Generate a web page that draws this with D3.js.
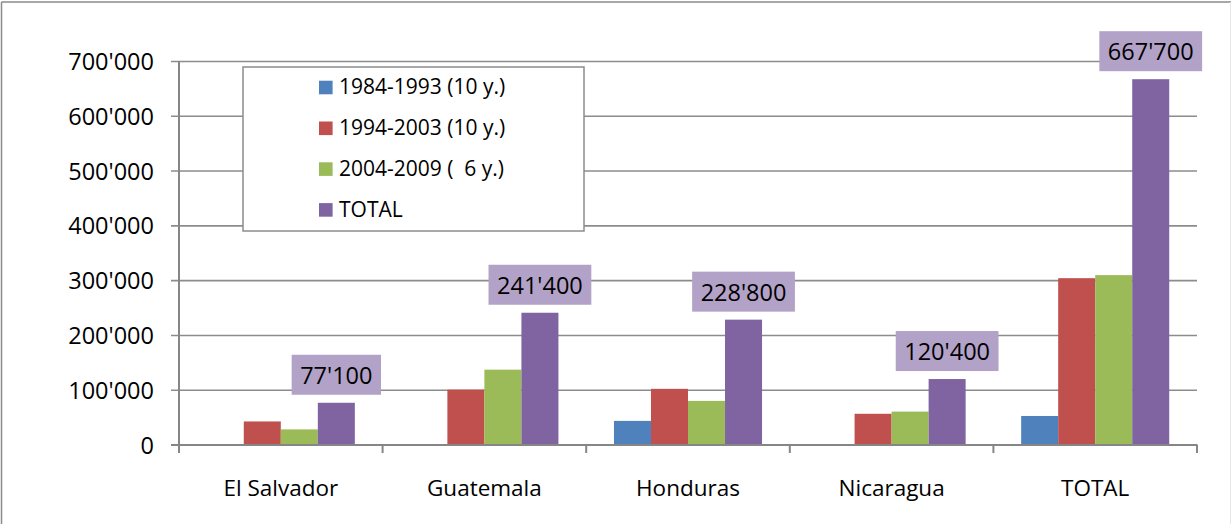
<!DOCTYPE html>
<html>
<head>
<meta charset="utf-8">
<script src="https://cdn.jsdelivr.net/npm/d3@7"></script>
<style>
  html, body { margin: 0; padding: 0; background: #fff; }
  svg { display: block; }
  text { font-family: "Open Sans", "Noto Sans", sans-serif; fill: #000; }
</style>
</head>
<body>
<svg id="chart" width="1232" height="524"></svg>
<script>
// ---- data ----
const categories = ["El Salvador", "Guatemala", "Honduras", "Nicaragua", "TOTAL"];
const seriesNames = ["1984-1993 (10 y.)", "1994-2003 (10 y.)", "2004-2009 (  6 y.)", "TOTAL"];
const s1984 = [0, 0, 44000, 0, 53000];
const s1994 = [43000, 101000, 102500, 57000, 304500];
const s2004 = [28500, 137500, 80500, 61000, 310000];
const sTotal = [77100, 241400, 228800, 120400, 667700];
const yTicks = [0, 100000, 200000, 300000, 400000, 500000, 600000, 700000];
const colors = ["#4f81bd", "#c0504d", "#9bbb59", "#8064a2"];

const seriesValues = [s1984, s1994, s2004, sTotal];
const fmt = v => {
  const s = String(v);
  return s.replace(/\B(?=(\d{3})+(?!\d))/g, "'");
};

const svg = d3.select("#chart");

// frame
svg.append("line").attr("x1", 1.5).attr("y1", 2).attr("x2", 1.5).attr("y2", 524)
  .attr("stroke", "#8a8a8a").attr("stroke-width", 1.5);
svg.append("line").attr("x1", 1.5).attr("y1", 2).attr("x2", 1231).attr("y2", 2)
  .attr("stroke", "#8a8a8a").attr("stroke-width", 1.5);
svg.append("line").attr("x1", 1230.5).attr("y1", 2).attr("x2", 1230.5).attr("y2", 524)
  .attr("stroke", "#e6e6e6").attr("stroke-width", 1);

const left = 179, right = 1197, top0 = 61.5, zeroY = 445;

const y = d3.scaleLinear().domain([0, 700000]).range([zeroY, top0]);
const x0 = d3.scaleBand().domain(categories).range([left, right]).paddingInner(0).paddingOuter(0);
const x1 = d3.scaleBand().domain(d3.range(4)).range([0, x0.bandwidth()]).paddingInner(0).paddingOuter(0.75);

// gridlines
svg.append("g").selectAll("line").data(yTicks.filter(d => d > 0)).join("line")
  .attr("x1", left - 8).attr("x2", right)
  .attr("y1", d => y(d)).attr("y2", d => y(d))
  .attr("stroke", "#8c8c8c").attr("stroke-width", 1.6);

// y-axis tick labels
svg.append("g").selectAll("text").data(yTicks).join("text")
  .attr("x", 154).attr("y", d => y(d) + 8.6)
  .attr("text-anchor", "end")
  .style("font-size", "23.5px")
  .text(d => fmt(d));

// bars
const groups = svg.append("g").selectAll("g").data(categories).join("g")
  .attr("transform", d => `translate(${x0(d)},0)`);
groups.selectAll("rect").data((c, ci) => seriesValues.map((s, si) => ({ si, v: s[ci] })))
  .join("rect")
  .attr("x", d => x1(d.si))
  .attr("width", x1.bandwidth())
  .attr("y", d => y(d.v))
  .attr("height", d => zeroY - y(d.v))
  .attr("fill", d => colors[d.si]);

// axes lines
svg.append("line").attr("x1", left - 8).attr("x2", right + 0.5).attr("y1", zeroY).attr("y2", zeroY)
  .attr("stroke", "#868686").attr("stroke-width", 2);
svg.append("line").attr("x1", left).attr("x2", left).attr("y1", top0).attr("y2", zeroY + 8)
  .attr("stroke", "#868686").attr("stroke-width", 2);
// x ticks at category boundaries
const bounds = categories.map(c => x0(c)).concat([right]);
svg.append("g").selectAll("line").data(bounds.slice(1)).join("line")
  .attr("x1", d => d).attr("x2", d => d).attr("y1", zeroY).attr("y2", zeroY + 8)
  .attr("stroke", "#868686").attr("stroke-width", 2);

// category labels
svg.append("g").selectAll("text").data(categories).join("text")
  .attr("x", d => x0(d) + x0.bandwidth() / 2)
  .attr("y", 496)
  .attr("text-anchor", "middle")
  .style("font-size", "22.5px")
  .text(d => d);

// data labels for TOTAL series
const lbl = svg.append("g").selectAll("g").data(categories).join("g");
lbl.each(function (c, ci) {
  const g = d3.select(this);
  const cx = x0(c) + x1(3) + x1.bandwidth() / 2;
  const boxBottom = y(sTotal[ci]) - 8;
  const t = g.append("text")
    .attr("x", cx).attr("y", boxBottom - 11)
    .attr("text-anchor", "middle")
    .style("font-size", "23.5px")
    .text(fmt(sTotal[ci]));
  const w = t.node().getComputedTextLength() + 17;
  g.insert("rect", "text")
    .attr("x", cx - w / 2).attr("y", boxBottom - 40)
    .attr("width", w).attr("height", 40)
    .attr("fill", "#b3a2c7");
});

// legend
const lg = svg.append("g");
lg.append("rect").attr("x", 243).attr("y", 67).attr("width", 341).attr("height", 164)
  .attr("fill", "#fff").attr("stroke", "#8c8c8c").attr("stroke-width", 1.5);
const items = lg.selectAll("g.item").data(seriesNames).join("g").attr("class", "item")
  .attr("transform", (d, i) => `translate(0,${94.3 + i * 40.8})`);
items.append("rect").attr("x", 319).attr("y", -13.6).attr("width", 13.6).attr("height", 13.6)
  .attr("fill", (d, i) => colors[i]);
items.append("text").attr("x", 339).attr("y", 0)
  .style("font-size", "21px")
  .style("white-space", "pre")
  .attr("xml:space", "preserve")
  .text(d => d);
</script>
</body>
</html>
